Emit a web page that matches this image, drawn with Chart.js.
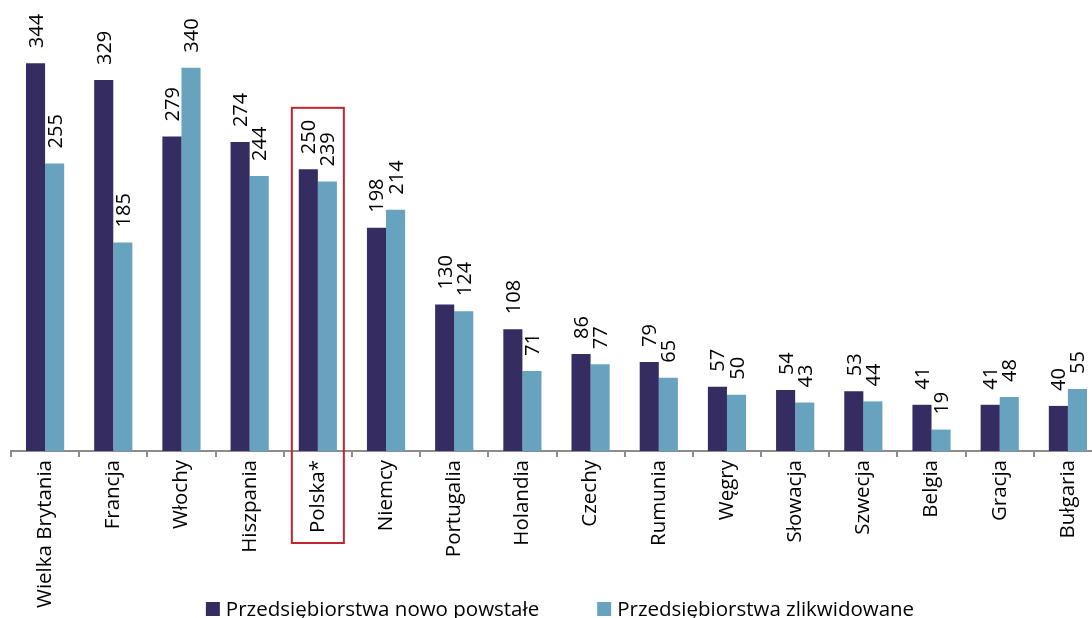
<!DOCTYPE html>
<html>
<head>
<meta charset="utf-8">
<script src="https://cdn.jsdelivr.net/npm/chart.js@4.4.0/dist/chart.umd.min.js"></script>
<style>
  html, body { margin: 0; padding: 0; overflow: hidden; background: #fff; }
  #wrap { width: 1104px; height: 618px; position: relative; }
</style>
</head>
<body>
<div id="wrap"><canvas id="chart"></canvas></div>
<script>
// --- data ---
const countries = ['Wielka Brytania', 'Francja', 'Włochy', 'Hiszpania', 'Polska*', 'Niemcy', 'Portugalia',
  'Holandia', 'Czechy', 'Rumunia', 'Węgry', 'Słowacja', 'Szwecja', 'Belgia', 'Gracja', 'Bułgaria'];
const newFirms = [344, 329, 279, 274, 250, 198, 130, 108, 86, 79, 57, 54, 53, 41, 41, 40];
const closedFirms = [255, 185, 340, 244, 239, 214, 124, 71, 77, 65, 50, 43, 44, 19, 48, 55];
const seriesNames = ['Przedsiębiorstwa nowo powstałe', 'Przedsiębiorstwa zlikwidowane'];
const highlighted = 'Polska*';

const DARK = '#352d62';
const LIGHT = '#67a3be';
const FONT = '"Open Sans", sans-serif';
const VALUE_FONT = '20px ' + FONT;

// value labels drawn vertically above each bar
const valueLabels = {
  id: 'valueLabels',
  afterDatasetsDraw(chart) {
    const ctx = chart.ctx;
    ctx.save();
    ctx.font = VALUE_FONT;
    ctx.fillStyle = '#000';
    ctx.textAlign = 'left';
    ctx.textBaseline = 'alphabetic';
    chart.data.datasets.forEach((ds, di) => {
      chart.getDatasetMeta(di).data.forEach((bar, i) => {
        ctx.save();
        ctx.translate(bar.x + 7, bar.y - 15);
        ctx.rotate(-Math.PI / 2);
        ctx.fillText(String(ds.data[i]), 0, 0);
        ctx.restore();
      });
    });
    ctx.restore();
  }
};

// red frame around the highlighted category
const highlightBox = {
  id: 'highlightBox',
  afterDraw(chart) {
    const idx = countries.indexOf(highlighted);
    if (idx < 0) return;
    const ctx = chart.ctx;
    const x = chart.scales.x.getPixelForValue(idx);
    ctx.save();
    ctx.font = VALUE_FONT;
    const tops = chart.data.datasets.map((ds, di) => {
      const bar = chart.getDatasetMeta(di).data[idx];
      return bar.y - 15 - ctx.measureText(String(ds.data[idx])).width;
    });
    const top = Math.min(...tops) - 12;
    const bottom = chart.chartArea.bottom + 92;
    ctx.strokeStyle = '#c3252f';
    ctx.lineWidth = 2;
    ctx.strokeRect(x - 26, top, 52, bottom - top);
    ctx.restore();
  }
};

// legend at the bottom
const bottomLegend = {
  id: 'bottomLegend',
  afterDraw(chart) {
    const ctx = chart.ctx;
    ctx.save();
    ctx.font = '20.5px ' + FONT;
    ctx.textBaseline = 'middle';
    ctx.textAlign = 'left';
    const box = 14, gapBox = 6, gapItem = 58;
    const items = chart.data.datasets.map(ds => ({ text: ds.label, color: ds.backgroundColor }));
    const widths = items.map(it => box + gapBox + ctx.measureText(it.text).width);
    const total = widths.reduce((a, b) => a + b, 0) + gapItem * (items.length - 1);
    let x = 560 - total / 2;
    const y = 609;
    items.forEach((it, i) => {
      ctx.fillStyle = it.color;
      ctx.fillRect(x, y - box / 2, box, box);
      ctx.fillStyle = '#000';
      ctx.fillText(it.text, x + box + gapBox, y + 1);
      x += widths[i] + gapItem;
    });
    ctx.restore();
  }
};

new Chart(document.getElementById('chart'), {
  type: 'bar',
  data: {
    labels: countries,
    datasets: [
      { label: seriesNames[0], data: newFirms, backgroundColor: DARK },
      { label: seriesNames[1], data: closedFirms, backgroundColor: LIGHT }
    ]
  },
  options: {
    responsive: true,
    maintainAspectRatio: false,
    animation: false,
    layout: { padding: { left: 11, right: 2, top: 0, bottom: 0 } },
    datasets: { bar: { categoryPercentage: 0.56, barPercentage: 1.0 } },
    plugins: { legend: { display: false }, tooltip: { enabled: false } },
    scales: {
      x: {
        grid: { offset: true, drawOnChartArea: false, drawTicks: true, tickLength: 6, color: '#8c8c8c', lineWidth: 2 },
        border: { display: true, color: '#8c8c8c', width: 2 },
        ticks: { maxRotation: 90, minRotation: 90, padding: 3, color: '#000', font: { family: FONT, size: 20.5 } },
        afterFit(scale) { scale.height = 167; }
      },
      y: { display: false, min: 0, max: 400 }
    }
  },
  plugins: [valueLabels, highlightBox, bottomLegend]
});
</script>
</body>
</html>
